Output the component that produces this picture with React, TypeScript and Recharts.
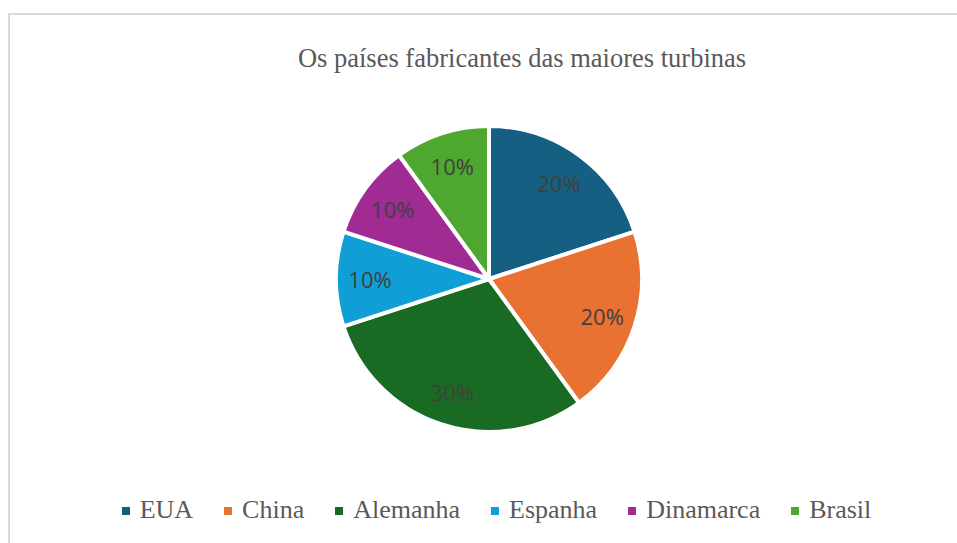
import { PieChart, Pie, Cell, Legend } from 'recharts';

const countries = ['EUA', 'China', 'Alemanha', 'Espanha', 'Dinamarca', 'Brasil'];
const shares = [20, 20, 30, 10, 10, 10];
const sliceColors = ['#156082', '#E97132', '#196B24', '#0F9ED5', '#A02B93', '#4EA72E'];

const chartTitle = 'Os países fabricantes das maiores turbinas';

const data = countries.map((name, i) => ({ name, value: shares[i] }));

const RAD = Math.PI / 180;

const renderLabel = (props: any) => {
  const { cx, cy, midAngle, percent } = props;
  const r = 119;
  const x = cx + r * Math.cos(-midAngle * RAD);
  const y = cy + r * Math.sin(-midAngle * RAD);
  return (
    <text
      x={x}
      y={y}
      textAnchor="middle"
      dominantBaseline="central"
      fill="#404040"
      fontSize={22}
      fontFamily="'Open Sans', sans-serif"
    >
      {`${Math.round(percent * 100)}%`}
    </text>
  );
};

const LegendContent = () => (
  <div
    style={{
      display: 'flex',
      justifyContent: 'center',
      alignItems: 'center',
      width: 957,
      paddingLeft: 36,
      boxSizing: 'border-box',
      fontFamily: "'Liberation Serif', 'Times New Roman', serif",
      fontSize: 26,
      lineHeight: '30px',
      color: '#595959',
    }}
  >
    {countries.map((name, i) => (
      <div
        key={name}
        style={{ display: 'flex', alignItems: 'center', marginRight: i < countries.length - 1 ? 31 : 0 }}
      >
        <span
          style={{ width: 8, height: 8, background: sliceColors[i], marginRight: 10, marginTop: 2 }}
        />
        <span>{name}</span>
      </div>
    ))}
  </div>
);

const App = () => {
  return (
    <div style={{ position: 'absolute', left: 0, top: 0, width: 957, height: 543, overflow: 'hidden', background: '#fff' }}>
      <div
        style={{
          position: 'absolute',
          left: 8,
          top: 13,
          width: 949,
          height: 530,
          borderTop: '2px solid #d9d9d9',
          borderLeft: '2px solid #d9d9d9',
          boxSizing: 'border-box',
        }}
      />
      <div
        style={{
          position: 'absolute',
          left: 272,
          top: 43,
          width: 500,
          textAlign: 'center',
          fontFamily: "'Liberation Serif', 'Times New Roman', serif",
          fontSize: 26.5,
          lineHeight: '30px',
          color: '#595959',
        }}
      >
        {chartTitle}
      </div>
      <div style={{ position: 'absolute', left: 0, top: 0 }}>
        <PieChart width={957} height={543} margin={{ top: 0, right: 0, bottom: 0, left: 0 }}>
          <Pie
            data={data}
            dataKey="value"
            nameKey="name"
            cx={489}
            cy={279}
            outerRadius={153}
            startAngle={90}
            endAngle={-270}
            stroke="#ffffff"
            strokeWidth={4}
            label={renderLabel}
            labelLine={false}
            isAnimationActive={false}
          >
            {data.map((d, i) => (
              <Cell key={d.name} fill={sliceColors[i]} />
            ))}
          </Pie>
          <Legend
            content={<LegendContent />}
            wrapperStyle={{ position: 'absolute', left: 0, top: 495, width: 957 }}
          />
        </PieChart>
      </div>
    </div>
  );
};

export default App;
